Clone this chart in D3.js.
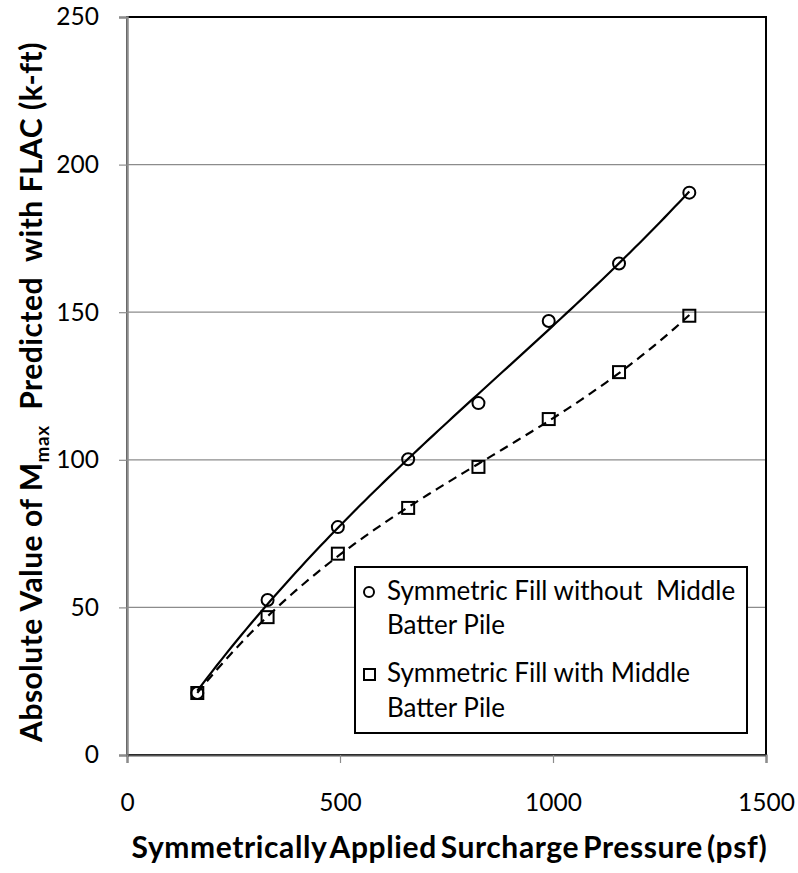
<!DOCTYPE html>
<html>
<head>
<meta charset="utf-8">
<script src="https://cdn.jsdelivr.net/npm/d3@7"></script>
<style>
  body { margin: 0; background: #fff; }
  text { font-family: Lato, "Open Sans", sans-serif; fill: #000; }
</style>
</head>
<body>
<svg id="chart" width="798" height="873"></svg>
<script>
// surcharge pressure (psf) and max moment (k-ft)
var pressure = [165, 330, 495, 660, 825, 990, 1155, 1320];
var noBatter = [21, 52.5, 77.2, 100.2, 119.2, 147, 166.5, 190.5];
var withBatter = [21, 46.7, 68.2, 83.7, 97.6, 113.8, 129.7, 148.8];

var xTicks = [0, 500, 1000, 1500];
var yTicks = [0, 50, 100, 150, 200, 250];

var legendLines = [
    ["Symmetric Fill without  Middle", "Batter Pile"],
    ["Symmetric Fill with Middle", "Batter Pile"]
];

var svg = d3.select("#chart");

var plotLeft = 127, plotTop = 17, plotRight = 766, plotBottom = 755;

var x = d3.scaleLinear().domain([0, 1500]).range([plotLeft, plotRight]);
var y = d3.scaleLinear().domain([0, 250]).range([plotBottom, plotTop]);

// least squares polynomial trendline (x scaled to keep the normal equations tame)
function polyFit(xs, ys, order) {
    var n = order + 1;
    var A = [], b = [];
    for (var r = 0; r < n; r++) {
        A.push(new Array(n).fill(0));
        b.push(0);
    }
    xs.forEach(function(xv, k) {
        var u = xv / 1000;
        for (var r = 0; r < n; r++) {
            b[r] += ys[k] * Math.pow(u, r);
            for (var c = 0; c < n; c++) A[r][c] += Math.pow(u, r + c);
        }
    });
    // gaussian elimination
    for (var i = 0; i < n; i++) {
        for (var j = i + 1; j < n; j++) {
            var f = A[j][i] / A[i][i];
            for (var c = i; c < n; c++) A[j][c] -= f * A[i][c];
            b[j] -= f * b[i];
        }
    }
    var coef = new Array(n).fill(0);
    for (var i = n - 1; i >= 0; i--) {
        var s = b[i];
        for (var c = i + 1; c < n; c++) s -= A[i][c] * coef[c];
        coef[i] = s / A[i][i];
    }
    return function(xv) {
        var u = xv / 1000, v = 0;
        for (var i = 0; i < n; i++) v += coef[i] * Math.pow(u, i);
        return v;
    };
}

function trendPoints(xs, ys) {
    var f = polyFit(xs, ys, 3);
    var x0 = d3.min(xs), x1 = d3.max(xs);
    return d3.range(0, 101).map(function(i) {
        var xv = x0 + (x1 - x0) * i / 100;
        return [xv, f(xv)];
    });
}

// gridlines
svg.selectAll(".grid")
    .data(yTicks.filter(function(d) { return d > 0 && d < 250; }))
    .enter().append("line")
    .attr("x1", plotLeft).attr("x2", plotRight)
    .attr("y1", function(d) { return y(d); })
    .attr("y2", function(d) { return y(d); })
    .attr("stroke", "#8c8c8c")
    .attr("stroke-width", 1.2);

// plot area border
svg.append("rect")
    .attr("x", plotLeft).attr("y", plotTop)
    .attr("width", plotRight - plotLeft).attr("height", plotBottom - plotTop)
    .attr("fill", "none")
    .attr("stroke", "#000")
    .attr("stroke-width", 2);

// y axis
var yAxis = svg.append("g")
    .attr("transform", "translate(" + plotLeft + ",0)")
    .call(d3.axisLeft(y).tickValues(yTicks).tickSize(8).tickPadding(20).tickFormat(d3.format("d")));
yAxis.select(".domain").attr("stroke", "#8c8c8c").attr("stroke-width", 2.5);
yAxis.selectAll(".tick line").attr("stroke", "#8c8c8c").attr("stroke-width", 1.2);
yAxis.selectAll(".tick text").style("font-family", "Lato").style("font-size", "24.5px").attr("fill", "#000");

// x axis
var xAxis = svg.append("g")
    .attr("transform", "translate(0," + plotBottom + ")")
    .call(d3.axisBottom(x).tickValues(xTicks).tickSize(8).tickPadding(31).tickFormat(d3.format("d")));
xAxis.select(".domain").attr("stroke", "#555").attr("stroke-width", 2);
xAxis.selectAll(".tick line").attr("stroke", "#8c8c8c").attr("stroke-width", 1.2);
xAxis.selectAll(".tick text").style("font-family", "Lato").style("font-size", "24.5px").attr("fill", "#000");

// trendlines
var line = d3.line()
    .x(function(d) { return x(d[0]); })
    .y(function(d) { return y(d[1]); });

svg.append("path")
    .datum(trendPoints(pressure, noBatter))
    .attr("d", line)
    .attr("fill", "none")
    .attr("stroke", "#000")
    .attr("stroke-width", 2.2);

svg.append("path")
    .datum(trendPoints(pressure, withBatter))
    .attr("d", line)
    .attr("fill", "none")
    .attr("stroke", "#000")
    .attr("stroke-width", 2.2)
    .attr("stroke-dasharray", "9,6");

// markers
svg.selectAll(".circ")
    .data(d3.zip(pressure, noBatter))
    .enter().append("circle")
    .attr("cx", function(d) { return x(d[0]); })
    .attr("cy", function(d) { return y(d[1]); })
    .attr("r", 6)
    .attr("fill", "none")
    .attr("stroke", "#000")
    .attr("stroke-width", 2);

svg.selectAll(".sq")
    .data(d3.zip(pressure, withBatter))
    .enter().append("rect")
    .attr("x", function(d) { return x(d[0]) - 6; })
    .attr("y", function(d) { return y(d[1]) - 6; })
    .attr("width", 12)
    .attr("height", 12)
    .attr("fill", "none")
    .attr("stroke", "#000")
    .attr("stroke-width", 2);

// legend
var lg = svg.append("g");
lg.append("rect")
    .attr("x", 355).attr("y", 567)
    .attr("width", 392).attr("height", 166)
    .attr("fill", "#fff")
    .attr("stroke", "#000")
    .attr("stroke-width", 2);

lg.append("circle")
    .attr("cx", 369).attr("cy", 592).attr("r", 5)
    .attr("fill", "none").attr("stroke", "#000").attr("stroke-width", 2);
lg.append("rect")
    .attr("x", 364).attr("y", 669).attr("width", 11).attr("height", 11)
    .attr("fill", "none").attr("stroke", "#000").attr("stroke-width", 2);

var baselines = [[600, 634], [682, 717]];
legendLines.forEach(function(lines, i) {
    lines.forEach(function(t, j) {
        lg.append("text")
            .attr("x", 387)
            .attr("y", baselines[i][j])
            .style("font-size", "26px")
            .style("white-space", "pre")
            .text(t);
    });
});

// axis titles
svg.append("text")
    .attr("x", (plotLeft + plotRight) / 2 + 3)
    .attr("y", 858)
    .attr("text-anchor", "middle")
    .style("font-size", "30px")
    .style("font-weight", "bold")
    .style("letter-spacing", "0.6px")
    .style("word-spacing", "-4px")
    .text("Symmetrically Applied Surcharge Pressure (psf)");

var yt = svg.append("text")
    .attr("transform", "translate(42,392) rotate(-90)")
    .attr("text-anchor", "middle")
    .style("font-size", "30px")
    .style("font-weight", "bold")
    .style("letter-spacing", "0.5px")
    .style("white-space", "pre");
yt.append("tspan").text("Absolute Value of M");
yt.append("tspan").attr("dy", 7).style("font-size", "19px").text("max");
yt.append("tspan").attr("dy", -7).text("  Predicted  with FLAC (k-ft)");
</script>
</body>
</html>
